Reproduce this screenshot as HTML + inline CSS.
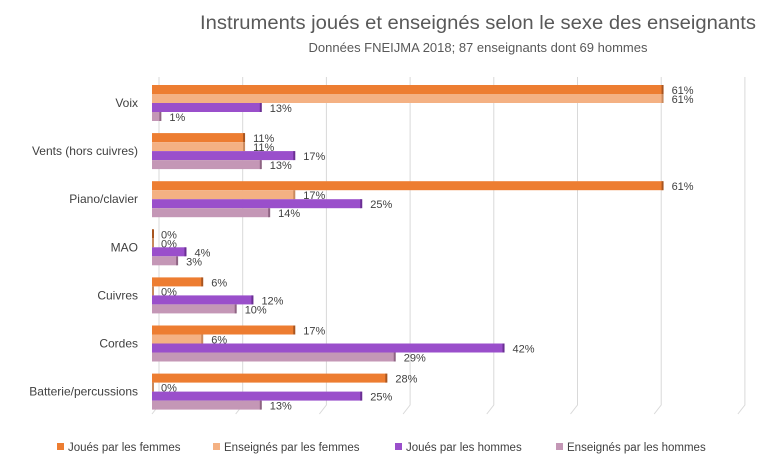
<!DOCTYPE html>
<html><head><meta charset="utf-8"><style>
body{margin:0;background:#fff;font-family:"Liberation Sans",sans-serif}
text{font-family:"Liberation Sans",sans-serif}
</style></head><body>
<svg width="764" height="469" xmlns="http://www.w3.org/2000/svg">
<text x="478" y="29" text-anchor="middle" font-size="19" fill="#595959" textLength="556" lengthAdjust="spacingAndGlyphs">Instruments joués et enseignés selon le sexe des enseignants</text>
<text x="478" y="52" text-anchor="middle" font-size="13" fill="#595959">Données FNEIJMA 2018; 87 enseignants dont 69 hommes</text>
<g id="grid"></g><g id="bars"></g><g id="cats"></g>
<g font-size="11.5" fill="#404040">
<rect x="57" y="443" width="7" height="7" fill="#ED7D31"/><text x="68" y="451">Joués par les femmes</text>
<rect x="213" y="443" width="7" height="7" fill="#F4B183"/><text x="224" y="451">Enseignés par les femmes</text>
<rect x="395" y="443" width="7" height="7" fill="#9A4FCB"/><text x="406" y="451">Joués par les hommes</text>
<rect x="556" y="443" width="7" height="7" fill="#C497B6"/><text x="567" y="451">Enseignés par les hommes</text>
</g>
</svg>
<script>
const categories=["Voix","Vents (hors cuivres)","Piano/clavier","MAO","Cuivres","Cordes","Batterie/percussions"];
const jouesFemmes=[61,11,61,0,6,17,28];
const enseignesFemmes=[61,11,17,0,0,6,0];
const jouesHommes=[13,17,25,4,12,42,25];
const enseignesHommes=[1,13,14,3,10,29,13];
const ticks=[0,10,20,30,40,50,60,70];
const NS="http://www.w3.org/2000/svg";
const x0=152,k=8.37,gTop=85,gStep=48.1,bh=9;
const xs=v=>x0+v*k;
function mk(t,a,p){const e=document.createElementNS(NS,t);for(const n in a)e.setAttribute(n,a[n]);p.appendChild(e);return e;}
const grid=document.getElementById('grid'),bars=document.getElementById('bars'),cats=document.getElementById('cats');
ticks.forEach(t=>{const x=xs(t);
const l=mk('path',{d:`M${x+7},77 L${x+7},405 L${x},414`,stroke:'#d9d9d9',fill:'none','stroke-width':1},grid);
});
const series=[jouesFemmes,enseignesFemmes,jouesHommes,enseignesHommes];
const cols=["#ED7D31","#F4B183","#9A4FCB","#C497B6"],dark=["#A85520","#C98A5E","#6A2F93","#8E6483"];
categories.forEach((c,i)=>{const top=gTop+i*gStep;
const t=mk('text',{x:138,y:top+bh*2+4,'text-anchor':'end','font-size':12,fill:'#404040'},cats);t.textContent=c;

series.forEach((s,j)=>{const y=top+j*bh,v=s[i],w=v*k;
const r=mk('rect',{x:x0,y:y,width:Math.max(w,1),height:bh,fill:cols[j]},bars);

const sd=mk('rect',{x:x0+Math.max(w,1)-1,y:y,width:2,height:bh,fill:dark[j]},bars);

const tl=mk('text',{x:x0+w+9,y:y+bh,'font-size':11,fill:'#404040'},bars);tl.textContent=v+'%';
});});
</script>
</body></html>
